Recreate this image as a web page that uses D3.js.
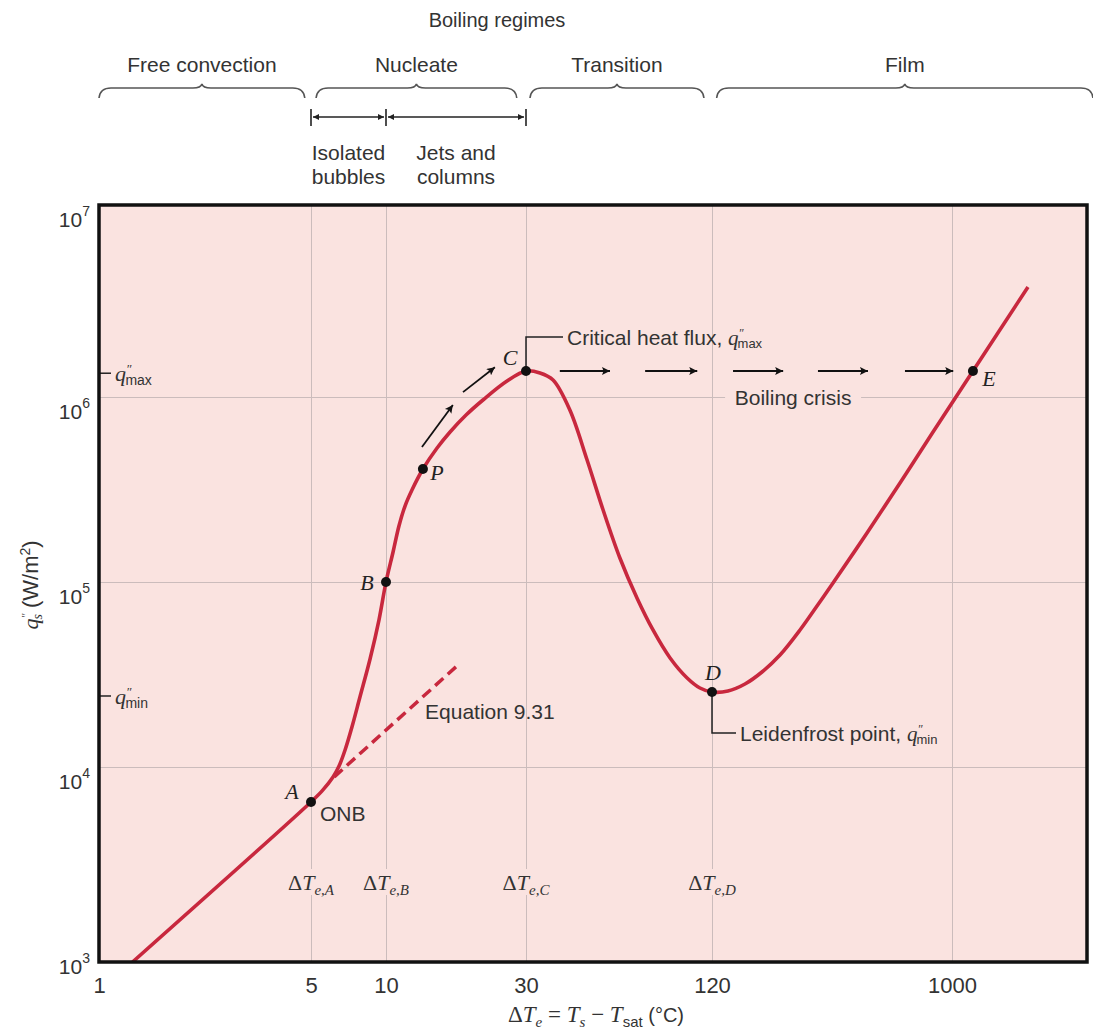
<!DOCTYPE html>
<html>
<head>
<meta charset="utf-8">
<script src="https://cdn.jsdelivr.net/npm/d3@7"></script>
<style>
    body { margin: 0; background: #fff; }
    text { font-family: "Liberation Sans", Arial, sans-serif; fill: #333; }
    .serif { font-family: "Liberation Serif", "Times New Roman", serif; }
    .ital { font-family: "Liberation Serif", "Times New Roman", serif; font-style: italic; }
</style>
</head>
<body>
<div id="chart"></div>
<script>
// axis ticks
var xTicks = [1, 5, 10, 30, 120, 1000];
var yTicks = [1e3, 1e4, 1e5, 1e6, 1e7];
var yTickExp = ['3', '4', '5', '6', '7'];

// boiling curve : excess temperature (C) and surface heat flux (W/m2)
var curveT = [1.29, 5, 5.54, 6.13, 6.48, 6.85, 7.30, 7.86, 8.63, 9.37, 10, 10.57, 11.07, 11.61, 12.26, 13.36,
    14.93, 16.53, 18.74, 21.4, 25.85, 30, 33.3, 36.7, 41.6, 47.3, 53.3, 60.4, 68.6, 77.3, 87.8, 99.7, 109.7, 120,
    138.2, 160.6, 186.6, 218.8, 261.1, 303.4, 349.5, 471.9, 631.7, 845.5, 1186, 1856];
var curveQ = [1000, 6616, 7540, 8886, 10125, 12355, 16450, 23890, 38350, 62300, 1e5, 1.453e5, 2.008e5, 2.575e5, 3.143e5, 4.082e5,
    5.301e5, 6.469e5, 7.99e5, 9.634e5, 1.211e6, 1.366e6, 1.334e6, 1.226e6, 8.505e5, 4.565e5, 2.45e5, 1.348e5, 8.196e4, 5.503e4, 3.884e4, 3.028e4, 2.673e4, 2.543e4,
    2.575e4, 2.809e4, 3.262e4, 4.031e4, 5.503e4, 7.419e4, 9.876e4, 1.841e5, 3.428e5, 6.469e5, 1.366e6, 3.741e6];

// labelled points
var pointNames = ['A', 'B', 'P', 'C', 'D', 'E'];
var pointT = [5, 10, 13.36, 30, 120, 1186];
var pointQ = [6616, 1e5, 4.082e5, 1.366e6, 2.543e4, 1.366e6];

// Equation 9.31 (dashed extension of free convection)
var eqT = [6.2, 17.6];
var eqQ = [8.9e3, 3.56e4];

// q''max / q''min marks on the y axis
var qMax = 1.33e6;
var qMin = 2.42e4;

// boiling crisis arrows
var crisisFrom = [38.6, 72.9, 144.5, 306, 660];
var crisisTo = [56.1, 107.5, 225, 476, 1010];

// arrows along the nucleate branch
var climbFromT = [13.26, 18.3], climbFromQ = [5.37e5, 1.06e6];
var climbToT = [16.9, 23.5], climbToQ = [9.06e5, 1.43e6];

// boiling regimes
var regimeNames = ['Free convection', 'Nucleate', 'Transition', 'Film'];
var regimeFrom = [1, 5.24, 30.9, 125];
var regimeTo = [4.77, 27.9, 113, 3150];

var subFrom = [5, 10];
var subTo = [10, 30];
var subLine1 = ['Isolated', 'Jets and'];
var subLine2 = ['bubbles', 'columns'];

var deltaLabels = ['A', 'B', 'C', 'D'];
var deltaT = [5, 10, 30, 120];

var margin = { top: 205, right: 6, bottom: 68, left: 99 };
var width = 1093 - margin.left - margin.right,
    height = 1030 - margin.top - margin.bottom;

var pink = '#fae3e0', red = '#c8283e';
var fs = '21px';

// the printed figure is not a strict log grid, so the scales are piecewise log
var x = d3.scaleLog()
    .domain([1, 5, 10, 30, 120, 1000, 3000])
    .range([0, 212, 287, 427, 613, 853, 988]);

var y = d3.scaleLog()
    .domain([1e3, 1e4, 1e5, 1e6, 1e7])
    .range([height, 562, 377, 192, 0]);

var svg = d3.select('#chart').append('svg')
    .attr('width', 1093)
    .attr('height', 1030);

var defs = svg.append('defs');
defs.append('clipPath').attr('id', 'clip')
    .append('rect').attr('width', width).attr('height', height);

defs.append('marker').attr('id', 'head')
    .attr('viewBox', '0 0 10 10').attr('refX', 10).attr('refY', 5)
    .attr('markerWidth', 14).attr('markerHeight', 8)
    .attr('markerUnits', 'userSpaceOnUse').attr('orient', 'auto')
    .append('path').attr('d', 'M0,0L10,5L0,10L2,5z').attr('fill', '#111');

defs.append('marker').attr('id', 'small')
    .attr('viewBox', '0 0 10 10').attr('refX', 10).attr('refY', 5)
    .attr('markerWidth', 8).attr('markerHeight', 6)
    .attr('markerUnits', 'userSpaceOnUse').attr('orient', 'auto-start-reverse')
    .append('path').attr('d', 'M0,0L10,5L0,10z').attr('fill', '#222');

/*** header : boiling regimes ***/

var head = svg.append('g').attr('transform', 'translate(' + margin.left + ',0)');

head.append('text')
    .attr('x', 398).attr('y', 27)
    .attr('text-anchor', 'middle')
    .style('font-size', '20px')
    .text('Boiling regimes');

function brace(x0, x1, yb) {
    var xm = (x0 + x1) / 2;
    return 'M' + x0 + ',' + (yb + 10) + 'Q' + (x0 + 1) + ',' + yb + ' ' + (x0 + 12) + ',' + yb +
        'L' + (xm - 9) + ',' + yb + 'Q' + (xm - 1) + ',' + yb + ' ' + xm + ',' + (yb - 4) +
        'Q' + (xm + 1) + ',' + yb + ' ' + (xm + 9) + ',' + yb +
        'L' + (x1 - 12) + ',' + yb + 'Q' + (x1 - 1) + ',' + yb + ' ' + x1 + ',' + (yb + 10);
}

regimeNames.forEach(function(name, i) {
    var x0 = x(regimeFrom[i]), x1 = x(regimeTo[i]);
    head.append('path')
        .attr('d', brace(x0, x1, 88))
        .attr('fill', 'none')
        .attr('stroke', '#555')
        .attr('stroke-width', 1.6);
    head.append('text')
        .attr('x', (x0 + x1) / 2).attr('y', 72)
        .attr('text-anchor', 'middle')
        .style('font-size', fs)
        .text(name);
});

subFrom.forEach(function(d, i) {
    var x0 = x(subFrom[i]), x1 = x(subTo[i]);
    head.append('line')
        .attr('x1', x0 + 2).attr('x2', x1 - 2).attr('y1', 117).attr('y2', 117)
        .attr('stroke', '#222').attr('stroke-width', 1.6)
        .attr('marker-start', 'url(#small)').attr('marker-end', 'url(#small)');
    head.append('text')
        .attr('x', (x0 + x1) / 2).attr('y', 160)
        .attr('text-anchor', 'middle').style('font-size', fs)
        .text(subLine1[i]);
    head.append('text')
        .attr('x', (x0 + x1) / 2).attr('y', 184)
        .attr('text-anchor', 'middle').style('font-size', fs)
        .text(subLine2[i]);
});

head.selectAll('.bar')
    .data([subFrom[0], subFrom[1], subTo[1]])
    .enter().append('line')
    .attr('x1', function(d) { return x(d); })
    .attr('x2', function(d) { return x(d); })
    .attr('y1', 109).attr('y2', 126)
    .attr('stroke', '#222').attr('stroke-width', 1.6);

/*** plot ***/

var g = svg.append('g')
    .attr('transform', 'translate(' + margin.left + ',' + margin.top + ')');

g.append('rect')
    .attr('width', width).attr('height', height)
    .attr('fill', pink);

var xAxis = d3.axisBottom(x)
    .tickValues(xTicks)
    .tickSize(-height)
    .tickPadding(15)
    .tickFormat(d3.format('d'));

var yAxis = d3.axisLeft(y)
    .tickValues(yTicks)
    .tickSize(-width)
    .tickPadding(9)
    .tickFormat(function() { return '10'; });

var gx = g.append('g')
    .attr('transform', 'translate(0,' + height + ')')
    .call(xAxis);
gx.select('.domain').remove();
gx.selectAll('.tick line').attr('stroke', '#cbbcbc').attr('stroke-width', 1);
gx.selectAll('.tick text')
    .attr('fill', '#333')
    .style('font-size', '22px')
    .style('font-family', '"Liberation Sans", Arial, sans-serif');

var gy = g.append('g').call(yAxis);
gy.select('.domain').remove();
gy.selectAll('.tick line').attr('stroke', '#cbbcbc').attr('stroke-width', 1);
gy.selectAll('.tick text')
    .attr('fill', '#333')
    .attr('dy', 21)
    .style('font-size', '21px')
    .style('font-family', '"Liberation Sans", Arial, sans-serif')
    .each(function(d, i) {
        d3.select(this).append('tspan')
            .attr('dy', -11)
            .style('font-size', '14px')
            .text(yTickExp[i]);
    });
// bottom label sits at the corner
gy.selectAll('.tick text').filter(function(d) { return d === 1e3; }).attr('dy', 11);

// labels that cover the grid
function bgText(xp, yp, w, h) {
    g.append('rect')
        .attr('x', xp - w / 2).attr('y', yp - h / 2)
        .attr('width', w).attr('height', h)
        .attr('fill', pink);
}

deltaT.forEach(function(d, i) {
    bgText(x(d), height - 80, 56, 26);
    var t = g.append('text')
        .attr('x', x(d)).attr('y', height - 72)
        .attr('text-anchor', 'middle')
        .style('font-size', '22px');
    t.append('tspan').attr('class', 'serif').text('\u0394');
    t.append('tspan').attr('class', 'ital').text('T');
    t.append('tspan').attr('class', 'ital').attr('dy', 5).style('font-size', '15px').text('e,' + deltaLabels[i]);
});

// q''max / q''min on the axis
function qLabel(val, sub) {
    g.append('line')
        .attr('x1', 0).attr('x2', 12)
        .attr('y1', y(val)).attr('y2', y(val))
        .attr('stroke', '#222').attr('stroke-width', 1.5);
    var t = g.append('text')
        .attr('x', 16).attr('y', y(val) + 8)
        .style('font-size', '22px');
    t.append('tspan').attr('class', 'ital').text('q');
    t.append('tspan').attr('class', 'ital').attr('dy', -8).style('font-size', '13px').text('\u2033');
    t.append('tspan').attr('dx', -6).attr('dy', 12).style('font-size', '14px').text(sub);
}
qLabel(qMax, 'max');
qLabel(qMin, 'min');

// Equation 9.31
g.append('path')
    .datum(d3.zip(eqT, eqQ))
    .attr('d', d3.line()
        .x(function(d) { return x(d[0]); })
        .y(function(d) { return y(d[1]); }))
    .attr('fill', 'none')
    .attr('stroke', red)
    .attr('stroke-width', 3.5)
    .attr('stroke-dasharray', '11,6');

g.append('text')
    .attr('x', x(17.6) - 33).attr('y', y(eqQ[1]) + 54)
    .style('font-size', fs)
    .text('Equation 9.31');

// boiling curve
g.append('path')
    .datum(d3.zip(curveT, curveQ))
    .attr('clip-path', 'url(#clip)')
    .attr('d', d3.line()
        .x(function(d) { return x(d[0]); })
        .y(function(d) { return y(d[1]); })
        .curve(d3.curveCatmullRom.alpha(0.5)))
    .attr('fill', 'none')
    .attr('stroke', red)
    .attr('stroke-width', 3.6)
    .attr('stroke-linejoin', 'round');

// arrows along the nucleate branch
climbFromT.forEach(function(d, i) {
    g.append('line')
        .attr('x1', x(climbFromT[i])).attr('y1', y(climbFromQ[i]))
        .attr('x2', x(climbToT[i])).attr('y2', y(climbToQ[i]))
        .attr('stroke', '#111').attr('stroke-width', 1.8)
        .attr('marker-end', 'url(#head)');
});

// boiling crisis arrows
crisisFrom.forEach(function(d, i) {
    g.append('line')
        .attr('x1', x(crisisFrom[i])).attr('x2', x(crisisTo[i]))
        .attr('y1', y(pointQ[3])).attr('y2', y(pointQ[3]))
        .attr('stroke', '#111').attr('stroke-width', 2)
        .attr('marker-end', 'url(#head)');
});

bgText(x(250) - 2, y(1e6), 136, 22);
g.append('text')
    .attr('x', x(250) - 2).attr('y', y(1e6) + 8)
    .attr('text-anchor', 'middle')
    .style('font-size', fs)
    .text('Boiling crisis');

// critical heat flux leader
var cx = x(pointT[3]), cy = y(pointQ[3]);
g.append('path')
    .attr('d', 'M' + cx + ',' + cy + 'V' + (cy - 34) + 'H' + (cx + 37))
    .attr('fill', 'none').attr('stroke', '#222').attr('stroke-width', 1.5);
var crit = g.append('text')
    .attr('x', cx + 41).attr('y', cy - 26)
    .style('font-size', fs);
crit.append('tspan').text('Critical heat flux, ');
crit.append('tspan').attr('class', 'ital').style('font-size', '21px').text('q');
crit.append('tspan').attr('class', 'ital').attr('dy', -8).style('font-size', '12px').text('\u2033');
crit.append('tspan').attr('dx', -6).attr('dy', 11).style('font-size', '13px').text('max');

// Leidenfrost leader
var dx = x(pointT[4]), dy = y(pointQ[4]);
g.append('path')
    .attr('d', 'M' + dx + ',' + dy + 'V' + (dy + 41) + 'H' + (dx + 24))
    .attr('fill', 'none').attr('stroke', '#222').attr('stroke-width', 1.5);
var leid = g.append('text')
    .attr('x', dx + 28).attr('y', dy + 49)
    .style('font-size', fs);
leid.append('tspan').text('Leidenfrost point, ');
leid.append('tspan').attr('class', 'ital').style('font-size', '21px').text('q');
leid.append('tspan').attr('class', 'ital').attr('dy', -8).style('font-size', '12px').text('\u2033');
leid.append('tspan').attr('dx', -6).attr('dy', 11).style('font-size', '13px').text('min');

// points
g.selectAll('.pt')
    .data(d3.range(pointNames.length))
    .enter().append('circle')
    .attr('cx', function(i) { return x(pointT[i]); })
    .attr('cy', function(i) { return y(pointQ[i]); })
    .attr('r', 5)
    .attr('fill', '#111');

var labelOffset = { A: [-19, -3], B: [-19, 8], P: [14, 11], C: [-16, -6], D: [1, -12], E: [16, 15] };
g.selectAll('.pl')
    .data(d3.range(pointNames.length))
    .enter().append('text')
    .attr('class', 'ital')
    .attr('x', function(i) { return x(pointT[i]) + labelOffset[pointNames[i]][0]; })
    .attr('y', function(i) { return y(pointQ[i]) + labelOffset[pointNames[i]][1]; })
    .attr('text-anchor', 'middle')
    .style('font-size', '22px')
    .style('fill', '#222')
    .text(function(i) { return pointNames[i]; });

g.append('text')
    .attr('x', x(pointT[0]) + 9).attr('y', y(pointQ[0]) + 19)
    .style('font-size', fs)
    .text('ONB');

// frame
g.append('rect')
    .attr('width', width).attr('height', height)
    .attr('fill', 'none')
    .attr('stroke', '#111')
    .attr('stroke-width', 3.5);

/*** axis titles ***/

var xt = svg.append('text')
    .attr('x', margin.left + x(30) + 70).attr('y', 1022)
    .attr('text-anchor', 'middle')
    .style('font-size', '23px');
xt.append('tspan').attr('class', 'serif').text('\u0394');
xt.append('tspan').attr('class', 'ital').text('T');
xt.append('tspan').attr('class', 'ital').attr('dy', 5).style('font-size', '15px').text('e');
xt.append('tspan').attr('class', 'serif').attr('dy', -5).text(' = ');
xt.append('tspan').attr('class', 'ital').text('T');
xt.append('tspan').attr('class', 'ital').attr('dy', 5).style('font-size', '15px').text('s');
xt.append('tspan').attr('class', 'serif').attr('dy', -5).text(' \u2212 ');
xt.append('tspan').attr('class', 'ital').text('T');
xt.append('tspan').attr('dy', 5).style('font-size', '15px').text('sat');
xt.append('tspan').attr('dy', -5).style('font-size', '20px').text(' (\u00B0C)');

var yt = svg.append('text')
    .attr('transform', 'translate(38,585) rotate(-90)')
    .attr('text-anchor', 'middle')
    .style('font-size', '22px');
yt.append('tspan').attr('class', 'ital').text('q');
yt.append('tspan').attr('class', 'ital').attr('dy', -8).style('font-size', '12px').text('\u2033');
yt.append('tspan').attr('class', 'ital').attr('dx', -6).attr('dy', 12).style('font-size', '14px').text('s');
yt.append('tspan').attr('dy', -4).text(' (W/m');
yt.append('tspan').attr('dy', -8).style('font-size', '14px').text('2');
yt.append('tspan').attr('dy', 8).text(')');
</script>
</body>
</html>
